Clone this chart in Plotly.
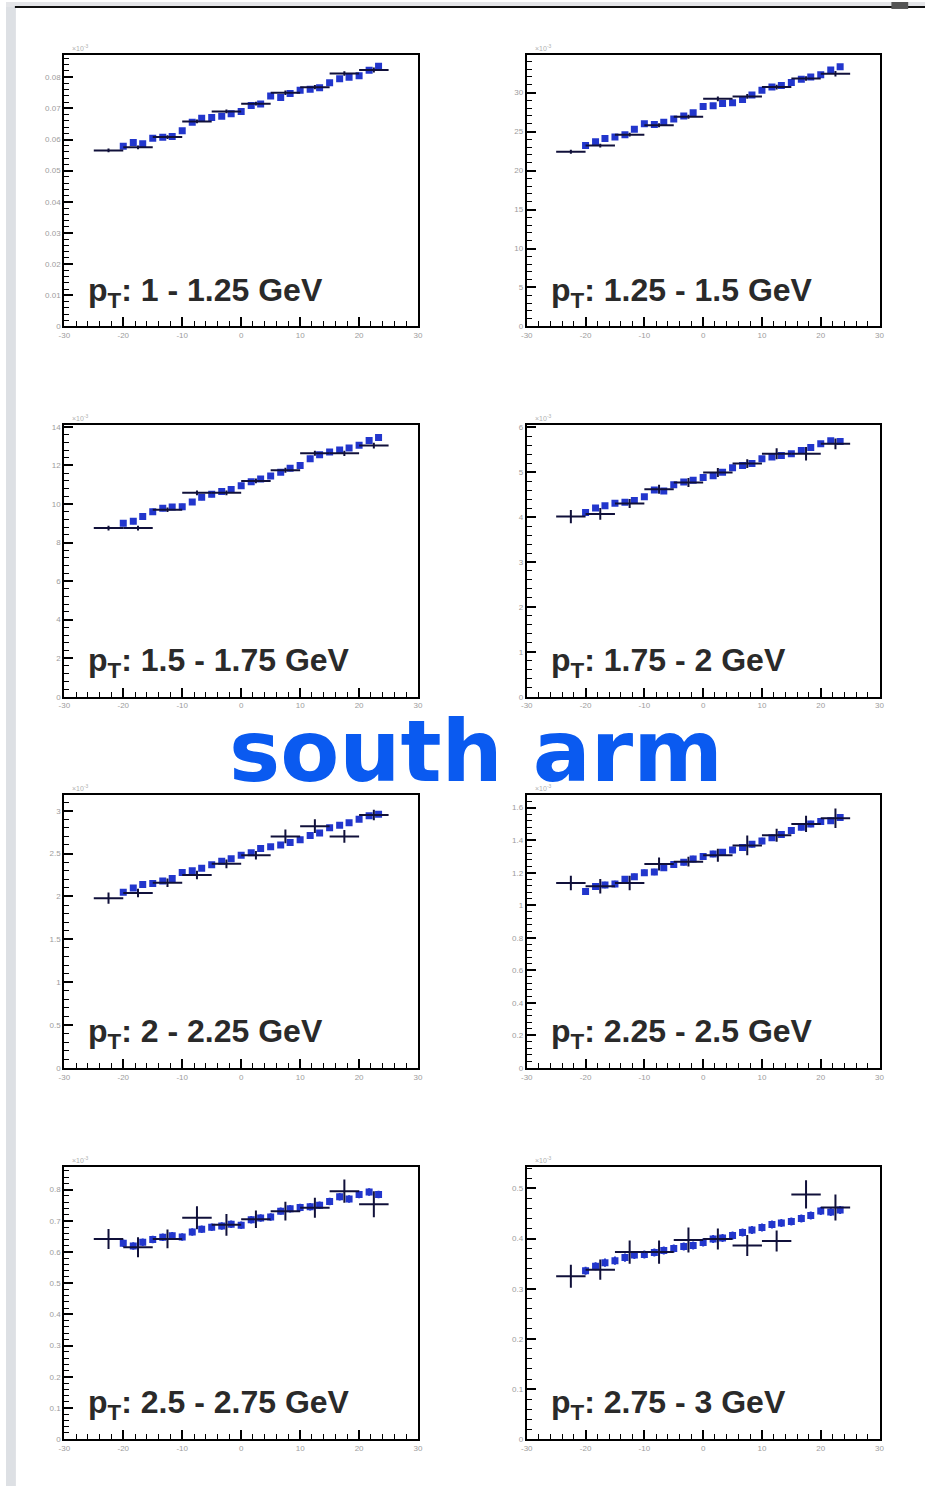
import plotly.graph_objects as go

W, H = 930, 1491

# ---------------- data ----------------
BLACK_X = [-22.5, -17.5, -12.5, -7.5, -2.5, 2.5, 7.5, 12.5, 17.5, 22.5]
BLUE_X = [-20.0, -18.3, -16.7, -15.0, -13.3, -11.7, -10.0, -8.3, -6.7, -5.0, -3.3, -1.7, 0.0,
          1.7, 3.3, 5.0, 6.7, 8.3, 10.0, 11.7, 13.3, 15.0, 16.7, 18.3, 20.0, 21.7, 23.3]

LABELS = ["p<sub>T</sub>: 1 - 1.25 GeV", "p<sub>T</sub>: 1.25 - 1.5 GeV",
          "p<sub>T</sub>: 1.5 - 1.75 GeV", "p<sub>T</sub>: 1.75 - 2 GeV",
          "p<sub>T</sub>: 2 - 2.25 GeV", "p<sub>T</sub>: 2.25 - 2.5 GeV",
          "p<sub>T</sub>: 2.5 - 2.75 GeV", "p<sub>T</sub>: 2.75 - 3 GeV"]

X_TICKS = [-30, -20, -10, 0, 10, 20, 30]

# panel 1
black1 = [0.0565, 0.0575, 0.0608, 0.0658, 0.0690, 0.0715, 0.0750, 0.0768, 0.0812, 0.0823]
black1_err = [0.0006, 0.0006, 0.0006, 0.0006, 0.0006, 0.0006, 0.0007, 0.0007, 0.0007, 0.0008]
blue1 = [0.0578, 0.0590, 0.0586, 0.0604, 0.0607, 0.0610, 0.0628, 0.0655, 0.0668, 0.0671, 0.0675,
         0.0683, 0.0690, 0.0709, 0.0714, 0.0740, 0.0735, 0.0748, 0.0758, 0.0761, 0.0766, 0.0782,
         0.0795, 0.0800, 0.0805, 0.0822, 0.0835]
blue1_err = [0.0008]
ticks1 = [0, 0.01, 0.02, 0.03, 0.04, 0.05, 0.06, 0.07, 0.08]
ticktext1 = ["0", "0.01", "0.02", "0.03", "0.04", "0.05", "0.06", "0.07", "0.08"]
ymax1 = 0.0872

# panel 2
black2 = [22.4, 23.2, 24.6, 25.8, 26.9, 29.2, 29.5, 30.7, 31.8, 32.4]
black2_err = [0.25, 0.25, 0.25, 0.25, 0.25, 0.3, 0.3, 0.3, 0.3, 0.35]
blue2 = [23.2, 23.7, 24.1, 24.3, 24.6, 25.3, 26.0, 25.9, 26.2, 26.6, 27.0, 27.4, 28.2, 28.3, 28.6,
         28.7, 29.1, 29.7, 30.3, 30.7, 30.9, 31.3, 31.7, 32.0, 32.3, 32.9, 33.3]
blue2_err = [0.35]
ticks2 = [0, 5, 10, 15, 20, 25, 30]
ticktext2 = ["0", "5", "10", "15", "20", "25", "30"]
ymax2 = 34.85

# panel 3
black3 = [8.75, 8.75, 9.70, 10.58, 10.58, 11.20, 11.75, 12.63, 12.63, 13.03]
black3_err = [0.12, 0.12, 0.12, 0.12, 0.12, 0.12, 0.13, 0.13, 0.14, 0.15]
blue3 = [9.0, 9.1, 9.35, 9.6, 9.78, 9.84, 9.86, 10.1, 10.35, 10.5, 10.65, 10.75, 10.95, 11.15,
         11.3, 11.45, 11.65, 11.85, 12.0, 12.35, 12.55, 12.7, 12.8, 12.9, 13.05, 13.3, 13.45]
blue3_err = [0.15]
ticks3 = [0, 2, 4, 6, 8, 10, 12, 14]
ticktext3 = ["0", "2", "4", "6", "8", "10", "12", "14"]
ymax3 = 14.1

# panel 4
black4 = [4.01, 4.07, 4.30, 4.62, 4.77, 4.99, 5.19, 5.41, 5.41, 5.63]
black4_err = [0.15, 0.13, 0.10, 0.10, 0.10, 0.10, 0.10, 0.12, 0.15, 0.12]
blue4 = [4.10, 4.20, 4.25, 4.31, 4.33, 4.37, 4.45, 4.60, 4.58, 4.72, 4.78, 4.82, 4.88, 4.92,
         5.00, 5.10, 5.15, 5.19, 5.30, 5.34, 5.37, 5.41, 5.48, 5.55, 5.63, 5.70, 5.68]
blue4_err = [0.06]
ticks4 = [0, 1, 2, 3, 4, 5, 6]
ticktext4 = ["0", "1", "2", "3", "4", "5", "6"]
ymax4 = 6.05

# panel 5
black5 = [1.98, 2.04, 2.16, 2.25, 2.38, 2.48, 2.70, 2.82, 2.70, 2.95]
black5_err = [0.065, 0.05, 0.05, 0.05, 0.05, 0.05, 0.08, 0.08, 0.075, 0.06]
blue5 = [2.05, 2.10, 2.14, 2.15, 2.18, 2.21, 2.28, 2.30, 2.33, 2.37, 2.41, 2.44, 2.48, 2.51,
         2.56, 2.58, 2.60, 2.63, 2.66, 2.71, 2.74, 2.80, 2.83, 2.86, 2.90, 2.94, 2.96]
blue5_err = [0.03]
ticks5 = [0, 0.5, 1, 1.5, 2, 2.5, 3]
ticktext5 = ["0", "0.5", "1", "1.5", "2", "2.5", "3"]
ymax5 = 3.18

# panel 6
black6 = [1.137, 1.117, 1.137, 1.253, 1.268, 1.308, 1.368, 1.430, 1.500, 1.535]
black6_err = [0.045, 0.045, 0.045, 0.040, 0.030, 0.040, 0.060, 0.040, 0.050, 0.060]
blue6 = [1.085, 1.115, 1.125, 1.130, 1.160, 1.175, 1.200, 1.205, 1.230, 1.250, 1.265, 1.285,
         1.300, 1.315, 1.325, 1.340, 1.355, 1.375, 1.395, 1.415, 1.435, 1.460, 1.480, 1.500,
         1.515, 1.520, 1.540]
blue6_err = [0.02]
ticks6 = [0, 0.2, 0.4, 0.6, 0.8, 1.0, 1.2, 1.4, 1.6]
ticktext6 = ["0", "0.2", "0.4", "0.6", "0.8", "1", "1.2", "1.4", "1.6"]
ymax6 = 1.676

# panel 7
black7 = [0.642, 0.615, 0.642, 0.710, 0.687, 0.705, 0.731, 0.742, 0.795, 0.753]
black7_err = [0.032, 0.032, 0.030, 0.037, 0.035, 0.028, 0.030, 0.032, 0.037, 0.042]
blue7 = [0.628, 0.619, 0.631, 0.640, 0.647, 0.652, 0.648, 0.664, 0.673, 0.679, 0.683, 0.689,
         0.686, 0.703, 0.709, 0.712, 0.731, 0.739, 0.743, 0.745, 0.750, 0.762, 0.777, 0.770,
         0.784, 0.792, 0.784]
blue7_err = [0.012]
ticks7 = [0, 0.1, 0.2, 0.3, 0.4, 0.5, 0.6, 0.7, 0.8]
ticktext7 = ["0", "0.1", "0.2", "0.3", "0.4", "0.5", "0.6", "0.7", "0.8"]
ymax7 = 0.874

# panel 8
black8 = [0.325, 0.338, 0.373, 0.373, 0.397, 0.399, 0.386, 0.395, 0.488, 0.462]
black8_err = [0.023, 0.020, 0.023, 0.023, 0.025, 0.021, 0.021, 0.021, 0.028, 0.026]
blue8 = [0.336, 0.345, 0.352, 0.356, 0.362, 0.367, 0.368, 0.372, 0.376, 0.380, 0.384, 0.386,
         0.392, 0.399, 0.401, 0.406, 0.412, 0.417, 0.422, 0.428, 0.431, 0.434, 0.440, 0.446,
         0.455, 0.453, 0.457]
blue8_err = [0.008]
ticks8 = [0, 0.1, 0.2, 0.3, 0.4, 0.5]
ticktext8 = ["0", "0.1", "0.2", "0.3", "0.4", "0.5"]
ymax8 = 0.5436

panels = [
    (black1, black1_err, blue1, blue1_err, ticks1, ticktext1, ymax1),
    (black2, black2_err, blue2, blue2_err, ticks2, ticktext2, ymax2),
    (black3, black3_err, blue3, blue3_err, ticks3, ticktext3, ymax3),
    (black4, black4_err, blue4, blue4_err, ticks4, ticktext4, ymax4),
    (black5, black5_err, blue5, blue5_err, ticks5, ticktext5, ymax5),
    (black6, black6_err, blue6, blue6_err, ticks6, ticktext6, ymax6),
    (black7, black7_err, blue7, blue7_err, ticks7, ticktext7, ymax7),
    (black8, black8_err, blue8, blue8_err, ticks8, ticktext8, ymax8),
]

# ---------------- layout geometry (pixels) ----------------
COLS = [(59, 417), (527, 884)]
ROWS = [(53, 326), (425, 698), (797, 1071), (1170, 1444)]

BLUE = "#2236cc"
DARK = "#10103a"
TICKFONT = dict(family="Liberation Sans, Arial, sans-serif", size=8, color="#9c9c9c")

fig = go.Figure()
layout_axes = {}
annotations = []

for i, (bk, bk_err, bl, bl_err, tv, tt, ymax) in enumerate(panels):
    r, c = divmod(i, 2)
    x0, x1 = COLS[c]
    top, bot = ROWS[r]
    n = i + 1
    xa = "x" if n == 1 else f"x{n}"
    ya = "y" if n == 1 else f"y{n}"
    xkey = "xaxis" if n == 1 else f"xaxis{n}"
    ykey = "yaxis" if n == 1 else f"yaxis{n}"

    # blue fine-binned points
    fig.add_trace(go.Scatter(
        x=BLUE_X, y=bl, mode="markers", xaxis=xa, yaxis=ya, showlegend=False,
        marker=dict(symbol="square", size=7, color=BLUE),
        error_y=dict(type="constant", value=bl_err[0], color=BLUE, thickness=2, width=0),
    ))
    # black coarse histogram with errors
    fig.add_trace(go.Scatter(
        x=BLACK_X, y=bk, mode="markers", xaxis=xa, yaxis=ya, showlegend=False,
        marker=dict(size=1, color=DARK),
        error_x=dict(type="constant", value=2.5, color=DARK, thickness=2, width=0),
        error_y=dict(type="data", array=bk_err, color=DARK, thickness=2, width=0),
    ))

    layout_axes[xkey] = dict(
        domain=[x0 / W, x1 / W], anchor=ya, range=[-30, 30],
        tickvals=X_TICKS, ticktext=[str(v) for v in X_TICKS],
        ticks="inside", ticklen=9, tickwidth=1.5, tickcolor="black",
        minor=dict(dtick=2, tick0=0, ticks="inside", ticklen=5, tickwidth=1.2, tickcolor="black"),
        showline=True, mirror=True, linecolor="black", linewidth=2,
        showgrid=False, zeroline=False, tickfont=TICKFONT, fixedrange=True,
    )
    step = tv[1] - tv[0]
    layout_axes[ykey] = dict(
        domain=[1 - bot / H, 1 - top / H], anchor=xa, range=[0, ymax],
        tickvals=tv, ticktext=tt,
        ticks="inside", ticklen=9, tickwidth=1.5, tickcolor="black",
        minor=dict(dtick=step / 5, tick0=0, ticks="inside", ticklen=5, tickwidth=1.2,
                   tickcolor="black"),
        showline=True, mirror=True, linecolor="black", linewidth=2,
        showgrid=False, zeroline=False, tickfont=TICKFONT, fixedrange=True,
    )

    # pT label
    annotations.append(dict(
        xref="paper", yref="paper", x=(x0 + 22) / W, y=1 - (bot - 12) / H,
        xanchor="left", yanchor="bottom", showarrow=False, text="<b>" + LABELS[i] + "</b>",
        font=dict(family="Liberation Sans, Arial, sans-serif", size=32, color="#2a2a2a"),
    ))
    # exponent marker
    annotations.append(dict(
        xref="paper", yref="paper", x=(x0 + 6) / W, y=1 - (top - 1) / H,
        xanchor="left", yanchor="bottom", showarrow=False, text="×10<sup>-3</sup>",
        font=dict(family="Liberation Sans, Arial, sans-serif", size=7, color="#b0b0b0"),
    ))

annotations.append(dict(
    xref="paper", yref="paper", x=476 / W, y=1 - 753 / H, xanchor="center", yanchor="middle",
    showarrow=False, text="<b>south arm</b>",
    font=dict(family="DejaVu Sans, sans-serif", size=86, color="#0a5af0"),
))

shapes = [
    dict(type="rect", xref="paper", yref="paper", x0=0, x1=10 / W, y0=0, y1=1,
         fillcolor="#dde0e4", line=dict(width=0), layer="below"),
    dict(type="rect", xref="paper", yref="paper", x0=0, x1=1, y0=1 - 5 / H, y1=1,
         fillcolor="#e4e5e8", line=dict(width=0), layer="below"),
    dict(type="line", xref="paper", yref="paper", x0=9 / W, x1=1, y0=1 - 5 / H, y1=1 - 5 / H,
         line=dict(color="#111111", width=2)),
    dict(type="rect", xref="paper", yref="paper", x0=896 / W, x1=913 / W, y0=1 - 7 / H, y1=1,
         fillcolor="#555555", line=dict(width=0)),
]

fig.update_layout(
    width=W, height=H, margin=dict(l=0, r=0, t=0, b=0),
    paper_bgcolor="white", plot_bgcolor="white",
    annotations=annotations, shapes=shapes, showlegend=False,
    **layout_axes,
)

fig.write_html("out.html")
